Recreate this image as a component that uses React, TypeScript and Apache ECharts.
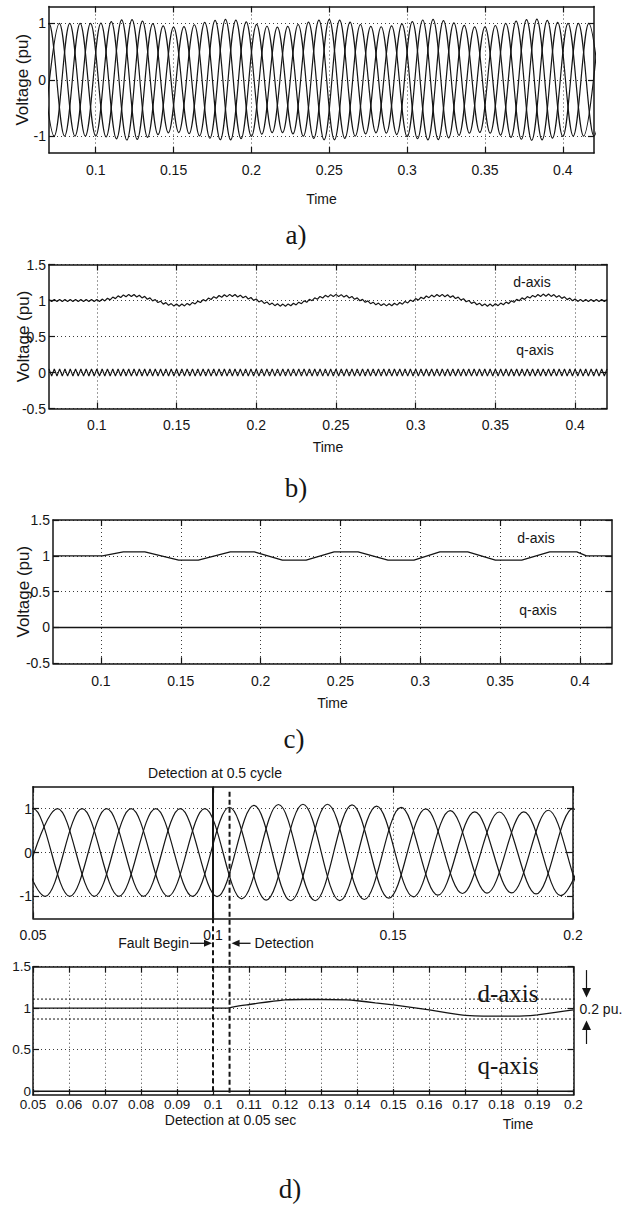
import React, { useEffect, useRef } from "react";
import * as echarts from "echarts";

// ---------------- DATA ----------------
// tick labels
const ticksTimeABC = [0.1, 0.15, 0.2, 0.25, 0.3, 0.35, 0.4];
const ticksVoltA = [-1, 0, 1];
const ticksVoltBC = [-0.5, 0, 0.5, 1, 1.5];
const ticksTimeDTop = [0.05, 0.1, 0.15, 0.2];
const ticksVoltDTop = [-1, 0, 1];
const ticksTimeDBottom = [0.05, 0.06, 0.07, 0.08, 0.09, 0.1, 0.11, 0.12, 0.13, 0.14, 0.15, 0.16, 0.17, 0.18, 0.19, 0.2];
const ticksVoltDBottom = [0, 0.5, 1, 1.5];

// b) unfiltered d-axis voltage: swing extremes (time s, pu); also the envelope of the phase voltages in a)
const timeB = [0.07, 0.1, 0.121, 0.151, 0.184, 0.217, 0.25, 0.282, 0.316, 0.346, 0.382, 0.404, 0.42];
const dAxisB = [1.0, 1.0, 1.07, 0.935, 1.07, 0.935, 1.07, 0.94, 1.07, 0.935, 1.075, 1.0, 1.0];
const qTimeB = [0.07, 0.42];
const qAxisB = [0, 0];
const rippleFreqB = 300; // Hz ripple on both traces of b)
const rippleAmpD = 0.015;
const rippleAmpQ = 0.05;

// a) three-phase voltages
const mainsFreqA = 50;
const firstCrestA = 0.07;

// c) filtered d-axis / q-axis voltage
const timeC = [0.07, 0.101, 0.114, 0.1275, 0.1487, 0.161, 0.181, 0.196, 0.2136, 0.2285, 0.246, 0.261, 0.2797, 0.296, 0.3122, 0.3297, 0.347, 0.3635, 0.381, 0.398, 0.404, 0.42];
const dAxisC = [1.0, 1.0, 1.055, 1.055, 0.94, 0.94, 1.055, 1.055, 0.94, 0.94, 1.055, 1.055, 0.94, 0.94, 1.055, 1.055, 0.94, 0.94, 1.055, 1.055, 1.0, 1.0];
const qTimeC = [0.07, 0.42];
const qAxisC = [0, 0];

// d) top: three-phase voltages around the fault
const cycleDTop = 0.02045;
const firstCrestDTop = 0.05;
const ampTimeDTop = [0.05, 0.1, 0.11, 0.12, 0.135, 0.145, 0.158, 0.17, 0.185, 0.2];
const ampDTop = [1.0, 1.0, 1.07, 1.1, 1.1, 1.06, 1.0, 0.93, 0.92, 1.0];

// d) bottom: detected d-axis / q-axis voltage
const timeDBottom = [0.05, 0.104, 0.106, 0.11, 0.115, 0.12, 0.125, 0.13, 0.137, 0.14, 0.145, 0.15, 0.155, 0.16, 0.165, 0.17, 0.175, 0.18, 0.185, 0.188, 0.19, 0.195, 0.2];
const dAxisDBottom = [1.0, 1.0, 1.02, 1.045, 1.075, 1.1, 1.105, 1.105, 1.1, 1.09, 1.065, 1.04, 1.01, 0.98, 0.945, 0.915, 0.905, 0.905, 0.905, 0.91, 0.92, 0.95, 0.98];
const qTimeDBottom = [0.05, 0.2];
const qAxisDBottom = [0, 0];
const bandLevels = [1.11, 0.87];
const bandEnd = 0.2048;
const faultBegin = 0.1;
const detectionTime = 0.1046;

// ---------------- helpers ----------------
const INK = "#151515";
const SANS = "'Liberation Sans', Arial, Helvetica, sans-serif";
const SERIF = "'Liberation Serif', 'Times New Roman', Times, serif";
const dotted = { color: "#3c3c3c", width: 1, type: [1, 3] as number[] };

const fmt = (v: number) => String(parseFloat(Number(v).toFixed(3)));

function lerpAt(ts: number[], vs: number[], t: number) {
  if (t <= ts[0]) return vs[0];
  for (let i = 1; i < ts.length; i++) {
    if (t <= ts[i]) {
      const u = (t - ts[i - 1]) / (ts[i] - ts[i - 1]);
      return vs[i - 1] + (vs[i] - vs[i - 1]) * u;
    }
  }
  return vs[vs.length - 1];
}
function easeAt(ts: number[], vs: number[], t: number) {
  if (t <= ts[0]) return vs[0];
  for (let i = 1; i < ts.length; i++) {
    if (t <= ts[i]) {
      const u = (t - ts[i - 1]) / (ts[i] - ts[i - 1]);
      const w = (1 - Math.cos(Math.PI * u)) / 2;
      return vs[i - 1] + (vs[i] - vs[i - 1]) * w;
    }
  }
  return vs[vs.length - 1];
}

// crest/trough points of a balanced three-phase set (A+, C-, B+, A-, C+, B- every sixth of a cycle)
function threePhase(firstCrest: number, period: number, tMin: number, tMax: number, envT: number[], envV: number[], ease: boolean) {
  const step = period / 6;
  const out: number[][][] = [[], [], []];
  const phaseOfSlot = [0, 2, 1];
  const i0 = Math.floor((tMin - firstCrest) / step) - 3;
  const i1 = Math.ceil((tMax - firstCrest) / step) + 3;
  for (let i = i0; i <= i1; i++) {
    const t = firstCrest + i * step;
    const slot = ((i % 3) + 3) % 3;
    const sign = Math.abs(i) % 2 === 0 ? 1 : -1;
    const amp = ease ? easeAt(envT, envV, t) : lerpAt(envT, envV, t);
    out[phaseOfSlot[slot]].push([t, sign * amp]);
  }
  return out;
}

function rippleTrace(tMin: number, tMax: number, freq: number, envT: number[], envV: number[], amp: number) {
  const step = 1 / (2 * freq);
  const n = Math.round((tMax - tMin) / step);
  const pts: number[][] = [];
  for (let k = 0; k <= n; k++) {
    const t = tMin + k * step;
    pts.push([t, easeAt(envT, envV, t) + (k % 2 ? -amp : amp)]);
  }
  return pts;
}

const zip = (ts: number[], vs: number[]) => ts.map((t, i) => [t, vs[i]]);

function xAxes(grid: number, min: number, max: number, ticks: number[], step: number, o: any) {
  const base: any = {
    type: "value", gridIndex: grid, min, max, minInterval: step, maxInterval: step,
    splitNumber: Math.max(1, Math.round((max - min) / step)),
    silent: true,
    axisLine: { show: true, onZero: false, lineStyle: { color: INK, width: 1.5 } },
    axisTick: { show: true, inside: true, length: 6, customValues: ticks, lineStyle: { color: INK, width: 1.2 } },
  };
  return [
    {
      ...base, position: "bottom",
      axisLabel: { show: true, customValues: ticks, margin: o.margin, fontSize: o.fontSize, fontFamily: SANS, color: INK, formatter: fmt, hideOverlap: false },
      splitLine: { show: true, lineStyle: dotted },
      name: o.name || "", nameLocation: "middle", nameGap: o.nameGap || 30, nameMoveOverlap: false,
      nameTextStyle: { fontSize: 14, fontFamily: SANS, color: INK },
    },
    { ...base, position: "top", axisLabel: { show: false }, splitLine: { show: false } },
  ];
}

function yAxes(grid: number, min: number, max: number, ticks: number[], step: number, o: any) {
  const base: any = {
    type: "value", gridIndex: grid, min, max, minInterval: step, maxInterval: step,
    splitNumber: Math.max(1, Math.round((max - min) / step)),
    silent: true,
    axisLine: { show: true, onZero: false, lineStyle: { color: INK, width: 1.5 } },
    axisTick: { show: true, inside: true, length: 6, customValues: ticks, lineStyle: { color: INK, width: 1.2 } },
  };
  return [
    {
      ...base, position: "left",
      axisLabel: { show: true, customValues: ticks, margin: o.margin, fontSize: o.fontSize, fontFamily: SANS, color: INK, formatter: fmt, hideOverlap: false },
      splitLine: { show: true, lineStyle: dotted },
      name: o.name || "", nameLocation: "middle", nameGap: o.nameGap || 20, nameMoveOverlap: false,
      nameTextStyle: { fontSize: 17, fontFamily: SANS, color: INK },
    },
    { ...base, position: "right", axisLabel: { show: false }, splitLine: { show: false } },
  ];
}

function line(grid: number, data: number[][], o: any = {}) {
  return {
    type: "line", xAxisIndex: 2 * grid, yAxisIndex: 2 * grid, data,
    symbol: "none", showSymbol: false, silent: true, animation: false,
    emphasis: { disabled: true },
    smooth: o.smooth ?? false,
    clip: o.clip ?? true,
    z: o.z ?? 3,
    lineStyle: { color: INK, width: o.width ?? 1.2, type: o.type ?? "solid" },
  };
}

export default function App() {
  const ref = useRef<HTMLDivElement>(null);

  useEffect(() => {
    if (!ref.current) return;
    const chart = echarts.init(ref.current, null, { renderer: "svg" });

    const phasesA = threePhase(firstCrestA, 1 / mainsFreqA, 0.07, 0.42, timeB, dAxisB, true);
    const phasesD = threePhase(firstCrestDTop, cycleDTop, 0.05, 0.2, ampTimeDTop, ampDTop, false);
    const dB = rippleTrace(0.07, 0.42, rippleFreqB, timeB, dAxisB, rippleAmpD);
    const qB = rippleTrace(0.07, 0.42, rippleFreqB, qTimeB, qAxisB, rippleAmpQ);

    const grids = [
      { left: 49, top: 6.5, width: 545, height: 146.5 },
      { left: 49, top: 264.5, width: 558, height: 144 },
      { left: 53, top: 520, width: 559, height: 143.3 },
      { left: 33, top: 786.7, width: 540, height: 131.6 },
      { left: 33, top: 966.7, width: 540.5, height: 128.3 },
    ].map((g) => ({ ...g, containLabel: false, outerBoundsMode: "none" }));

    const option: any = {
      animation: false,
      backgroundColor: "#ffffff",
      grid: grids,
      xAxis: [
        ...xAxes(0, 0.07, 0.42, ticksTimeABC, 0.05, { margin: 10, fontSize: 14, name: "Time", nameGap: 39 }),
        ...xAxes(1, 0.07, 0.42, ticksTimeABC, 0.05, { margin: 9.5, fontSize: 14, name: "Time", nameGap: 31.5 }),
        ...xAxes(2, 0.07, 0.42, ticksTimeABC, 0.05, { margin: 11, fontSize: 14, name: "Time", nameGap: 33 }),
        ...xAxes(3, 0.05, 0.2, ticksTimeDTop, 0.05, { margin: 10, fontSize: 14 }),
        ...xAxes(4, 0.05, 0.2, ticksTimeDBottom, 0.01, { margin: 2, fontSize: 13.5 }),
      ],
      yAxis: [
        ...yAxes(0, -1.3, 1.3, ticksVoltA, 1, { margin: 3, fontSize: 14, name: "Voltage (pu)", nameGap: 18 }),
        ...yAxes(1, -0.5, 1.5, ticksVoltBC, 0.5, { margin: 3, fontSize: 14, name: "Voltage (pu)", nameGap: 17.5 }),
        ...yAxes(2, -0.5, 1.5, ticksVoltBC, 0.5, { margin: 3, fontSize: 14, name: "Voltage (pu)", nameGap: 21.5 }),
        ...yAxes(3, -1.5, 1.5, ticksVoltDTop, 1, { margin: 1, fontSize: 14 }),
        ...yAxes(4, -0.045, 1.5, ticksVoltDBottom, 0.5, { margin: 2, fontSize: 13.5 }),
      ],
      series: [
        ...phasesA.map((d) => line(0, d, { smooth: 0.36, width: 1.2 })),
        line(1, dB, { width: 1.2 }),
        line(1, qB, { width: 1.2 }),
        line(2, zip(timeC, dAxisC), { width: 1.3 }),
        line(2, zip(qTimeC, qAxisC), { width: 1.5 }),
        ...phasesD.map((d) => line(3, d, { smooth: 0.36, width: 1.2 })),
        line(4, zip(timeDBottom, dAxisDBottom), { width: 1.3, smooth: 0.2 }),
        line(4, zip(qTimeDBottom, qAxisDBottom), { width: 1.5 }),
        ...bandLevels.map((lv) => line(4, [[0.05, lv], [bandEnd, lv]], { width: 1, type: [2, 2], clip: false, z: 2 })),
      ],
    };
    chart.setOption(option);

    const P = (g: number, x: number, y: number) =>
      chart.convertToPixel({ xAxisIndex: 2 * g, yAxisIndex: 2 * g } as any, [x, y]) as number[];

    const [fx, topY] = P(3, faultBegin, 1.5);
    const [, topBot] = P(3, faultBegin, -1.5);
    const [dx] = P(3, detectionTime, 0);
    const [, botBot] = P(4, faultBegin, -0.045);
    const [bx, yUp] = P(4, 0.2, bandLevels[0]);
    const [, yLo] = P(4, 0.2, bandLevels[1]);

    const txt = (text: string, x: number, y: number, size: number, family: string, align = "center", va = "middle") => ({
      type: "text", x, y, silent: true, z: 10,
      style: { text, fontSize: size, fontFamily: family, fill: INK, align, verticalAlign: va, textAlign: align, textVerticalAlign: va },
    });
    const seg = (x1: number, y1: number, x2: number, y2: number, w: number, dash?: number[]) => ({
      type: "line", silent: true, z: 9,
      shape: { x1, y1, x2, y2 },
      style: { stroke: INK, lineWidth: w, lineDash: dash || null },
    });
    const tri = (pts: number[][]) => ({ type: "polygon", silent: true, z: 9, shape: { points: pts }, style: { fill: INK } });

    const arrowY = topBot + 25;
    const ax = bx + 13;
    const graphics: any[] = [
      // fault / detection markers
      seg(fx, topY, fx, topBot, 2),
      seg(fx, topBot, fx, botBot, 2, [5, 3]),
      seg(dx, topY + 5, dx, botBot, 2, [5, 3]),
      txt("Detection at 0.5 cycle", fx + 2, topY - 14, 14, SANS),
      txt("Fault Begin", fx - 24, arrowY, 14, SANS, "right"),
      seg(fx - 23, arrowY, fx - 7, arrowY, 1.3),
      tri([[fx - 1, arrowY], [fx - 9, arrowY - 3.5], [fx - 9, arrowY + 3.5]]),
      txt("Detection", dx + 25, arrowY, 14, SANS, "left"),
      seg(dx + 8, arrowY, dx + 21, arrowY, 1.3),
      tri([[dx + 2, arrowY], [dx + 10, arrowY - 3.5], [dx + 10, arrowY + 3.5]]),
      txt("Detection at 0.05 sec", dx + 1, botBot + 25, 14, SANS),
      txt("Time", 518, botBot + 29, 14, SANS),
      // 0.2 pu band
      seg(ax, yUp - 29, ax, yUp - 9, 1.2),
      tri([[ax, yUp - 1.5], [ax - 4.5, yUp - 11], [ax + 4.5, yUp - 11]]),
      seg(ax, yLo + 25, ax, yLo + 9, 1.2),
      tri([[ax, yLo + 1.5], [ax - 4.5, yLo + 11], [ax + 4.5, yLo + 11]]),
      txt("0.2 pu.", bx + 6, (yUp + yLo) / 2, 14, SANS, "left"),
      // trace labels
      txt("d-axis", 532, 282, 14, SANS),
      txt("q-axis", 535, 350, 14, SANS),
      txt("d-axis", 536, 538, 14, SANS),
      txt("q-axis", 538, 610, 14, SANS),
      txt("d-axis", 508, 993, 25, SERIF),
      txt("q-axis", 508, 1065, 25, SERIF),
      // panel captions
      txt("a)", 296, 235, 27, SERIF),
      txt("b)", 296, 488, 27, SERIF),
      txt("c)", 294, 739, 27, SERIF),
      txt("d)", 290, 1189, 27, SERIF),
    ];
    chart.setOption({ graphic: graphics });

    return () => chart.dispose();
  }, []);

  return (
    <div
      ref={ref}
      style={{ position: "absolute", left: 0, top: 0, width: 631, height: 1205, background: "#fff" }}
    />
  );
}
